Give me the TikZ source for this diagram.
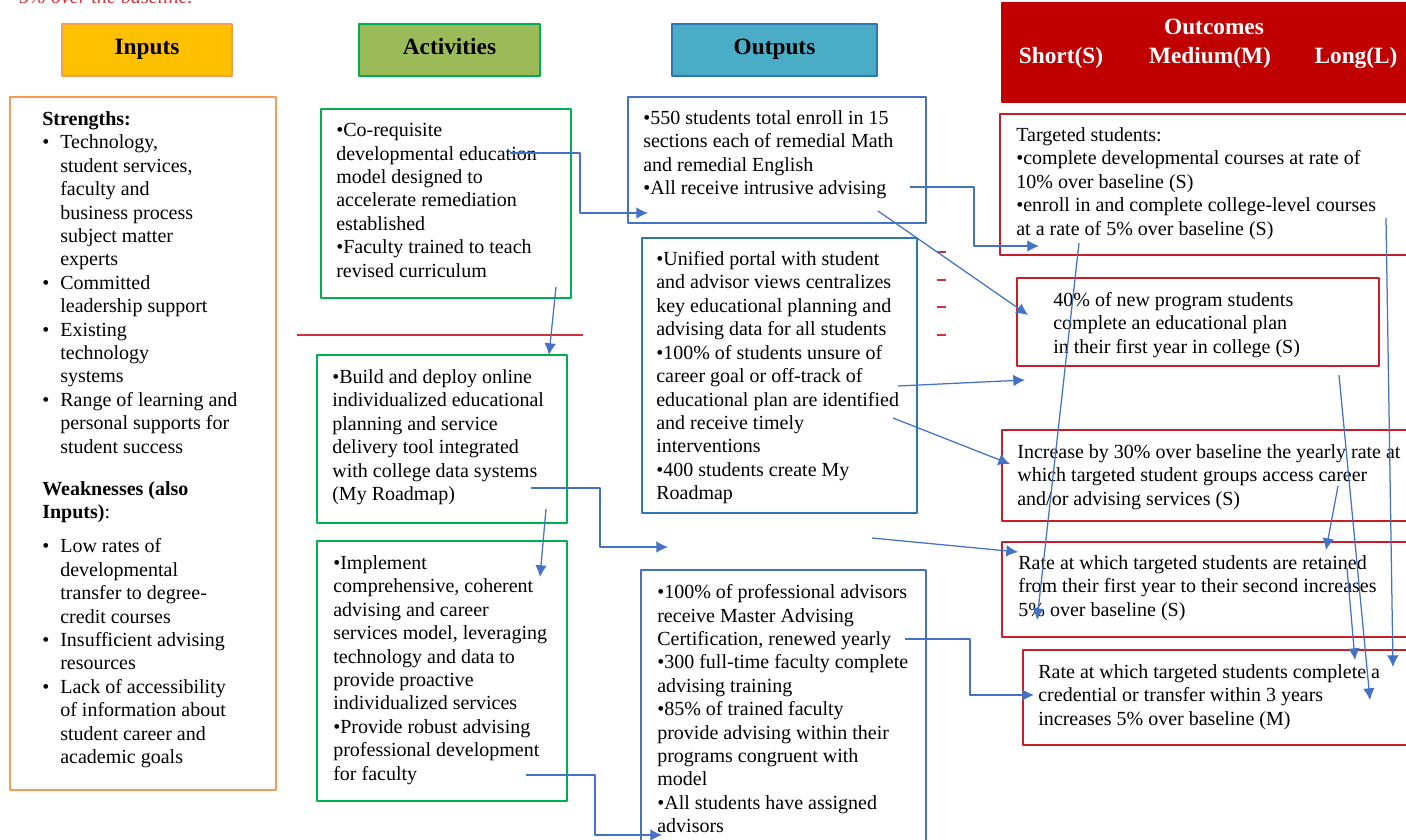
\documentclass[tikz,border=0pt]{standalone}
\usepackage{fontspec}
\setmainfont{Liberation Serif}
\usetikzlibrary{arrows.meta,fit}
\definecolor{inyel}{RGB}{255,192,0}
\definecolor{inbrd}{RGB}{245,157,86}
\definecolor{actgrn}{RGB}{155,187,89}
\definecolor{grnbrd}{RGB}{0,176,80}
\definecolor{outblu}{RGB}{75,172,198}
\definecolor{blubrd}{RGB}{46,117,182}
\definecolor{boxblu}{RGB}{68,114,196}
\definecolor{outred}{RGB}{192,0,0}
\definecolor{redbrd}{RGB}{200,30,40}
\definecolor{redln}{RGB}{210,50,55}
\definecolor{arr}{RGB}{68,114,196}
\newcommand{\itm}{\makebox[10.8pt][l]{\textbullet}}
\newcommand{\cont}{\hspace*{10.8pt}}
\begin{document}
\begin{tikzpicture}[x=0.6pt,y=-0.6pt,>={Latex[length=7pt,width=7pt]},line join=round,
 font=\fontsize{12}{14.05}\selectfont,
 head/.style={draw,line width=0.9pt,inner sep=0pt},
 htxt/.style={anchor=base,inner sep=0pt,font=\fontsize{14}{16}\selectfont\bfseries},
 box/.style={draw,line width=0.75pt,inner sep=0pt},
 txt/.style={anchor=north west,inner sep=0pt,align=left,yshift=6.8pt,execute at begin node=\strut},
 con/.style={draw=arr,line width=0.75pt}]
 \useasboundingbox (0,0) rectangle (1406,840);
 \node[anchor=base east,inner sep=0pt,text=redln,font=\fontsize{12}{14}\selectfont\itshape] (note) at (193,4) {5\% over the baseline.};
 % column heads
 \node[head,fill=inyel,draw=inbrd,fit={(62,24)(232,76)}] (hin) {};
 \node[head,fill=actgrn,draw=grnbrd,fit={(359,24)(540,76)}] (hact) {};
 \node[head,fill=outblu,draw=blubrd,fit={(672,24)(877,76)}] (hout) {};
 \node[head,fill=outred,draw=outred,fit={(1002,3)(1410,102)}] (hres) {};
 \foreach \n/\t/\x/\y in {hin0/Inputs/147/55,hact0/Activities/449.5/55,hout0/Outputs/774.5/55}
 \node[htxt] (\n) at (\x,\y) {\t};
 \foreach \n/\t/\x/\y in {hres0/Outcomes/1214/35,hres1/Short(S)/1061/64,hres2/Medium(M)/1210/64,hres3/Long(L)/1356/64}
 \node[htxt,text=white] (\n) at (\x,\y) {\t};
 % boxes
 \node[box,draw=inbrd,fit={(10,97)(276,790)}] (inp) {};
 \node[box,draw=grnbrd,fit={(321,109)(571,298)}] (a1) {};
 \node[box,draw=grnbrd,fit={(317,355)(567,523)}] (a2) {};
 \node[box,draw=grnbrd,fit={(317,541)(567,801)}] (a3) {};
 \node[box,draw=boxblu,fit={(628,97)(926,223)}] (o1) {};
 \node[box,draw=blubrd,fit={(642,238)(917,513)}] (o2) {};
 \node[box,draw=boxblu,fit={(641,570)(926,850)}] (o3) {};
 \node[box,draw=redbrd,fit={(1000,114)(1410,255)}] (r1) {};
 \node[box,draw=redbrd,fit={(1017,278)(1379,366)}] (r2) {};
 \node[box,draw=redbrd,fit={(1002,430)(1410,521)}] (r3) {};
 \node[box,draw=redbrd,fit={(1002,542)(1410,637)}] (r4) {};
 \node[box,draw=redbrd,fit={(1023,650)(1410,745)}] (r5) {};
 \draw[redln,line width=1pt] (297,335)--(583,335);
 \foreach \y in {252,280,307,335}
 \draw[redln,line width=1pt] (937,\y)--(946,\y);
 % texts
 \node[txt] (inpt) at (42,122.5) {\textbf{Strengths:}\\
 \itm Technology,\\ \cont student services,\\ \cont faculty and\\ \cont business process\\ \cont subject matter\\ \cont experts\\
 \itm Committed\\ \cont leadership support\\
 \itm Existing\\ \cont technology\\ \cont systems\\
 \itm Range of learning and\\ \cont personal supports for\\ \cont student success\\[11.2pt]
 \textbf{Weaknesses (also}\\ \textbf{Inputs)}:\\[6.4pt]
 \itm Low rates of\\ \cont developmental\\ \cont transfer to degree-\\ \cont credit courses\\
 \itm Insufficient advising\\ \cont resources\\
 \itm Lack of accessibility\\ \cont of information about\\ \cont student career and\\ \cont academic goals};
 \node[txt] (a1t) at (336,134.5) {\textbullet Co-requisite\\ developmental education\\ model designed to\\ accelerate remediation\\ established\\ \textbullet Faculty trained to teach\\ revised curriculum};
 \node[txt] (a2t) at (332,380.5) {\textbullet Build and deploy online\\ individualized educational\\ planning and service\\ delivery tool integrated\\ with college data systems\\ (My Roadmap)};
 \node[txt] (a3t) at (333,566.5) {\textbullet Implement\\ comprehensive, coherent\\ advising and career\\ services model, leveraging\\ technology and data to\\ provide proactive\\ individualized services\\ \textbullet Provide robust advising\\ professional development\\ for faculty};
 \node[txt] (o1t) at (643,121.5) {\textbullet 550 students total enroll in 15\\ sections each of remedial Math\\ and remedial English\\ \textbullet All receive intrusive advising};
 \node[txt] (o2t) at (656,262.5) {\textbullet Unified portal with student\\ and advisor views centralizes\\ key educational planning and\\ advising data for all students\\ \textbullet 100\% of students unsure of\\ career goal or off-track of\\ educational plan are identified\\ and receive timely\\ interventions\\ \textbullet 400 students create My\\ Roadmap};
 \node[txt] (o3t) at (657,595.5) {\textbullet 100\% of professional advisors\\ receive Master Advising\\ Certification, renewed yearly\\ \textbullet 300 full-time faculty complete\\ advising training\\ \textbullet 85\% of trained faculty\\ provide advising within their\\ programs congruent with\\ model\\ \textbullet All students have assigned\\ advisors};
 \node[txt] (r1t) at (1016,138.5) {Targeted students:\\ \textbullet complete developmental courses at rate of\\ 10\% over baseline (S)\\ \textbullet enroll in and complete college-level courses\\ at a rate of 5\% over baseline (S)};
 \node[txt] (r2t) at (1053,303.5) {40\% of new program students\\ complete an educational plan\\ in their first year in college (S)};
 \node[txt] (r3t) at (1017,455.5) {Increase by 30\% over baseline the yearly rate at\\ which targeted student groups access career\\ and/or advising services (S)};
 \node[txt] (r4t) at (1018,566.5) {Rate at which targeted students are retained\\ from their first year to their second increases\\ 5\% over baseline (S)};
 \node[txt] (r5t) at (1038,675.5) {Rate at which targeted students complete a\\ credential or transfer within 3 years\\ increases 5\% over baseline (M)};
 % connector ends
 \foreach \n/\x/\y in {a1r/510/153,o1in/648/213,a1b/556/287,a2in/549/355,a2r/531/488,a2to/668/547,
 a2b/546/509,a3in/540/577,a3r/526/775,o3in/662/835,o1r/910/187,r1in/1039/246,o1d/878/211,r2in/1028/315,
 o2a/898/386,o2to/1025/380,o2b/893/418,r3in/1010/464,o2c/872/538,r4in/1018/552,o3r/905/639,r5in/1034/695,
 r1a/1079/243,r4a/1037/620,r1b/1386/218,r5a/1393/667,r2a/1339/375,r5b/1370/700,r3a/1338/486,r4b/1326/550,
 r4c/1347/568,r5c/1355/660}
 \coordinate (\n) at (\x,\y);
 \foreach \s/\e/\d in {a1r/o1in/70,a2r/a2to/69,a3r/o3in/69,o1r/r1in/64,o3r/r5in/65}
 \draw[con,->] (\s) -- ++(\d,0) |- (\e);
 \foreach \s/\e in {a1b/a2in,a2b/a3in,o1d/r2in,o2a/o2to,o2b/r3in,o2c/r4in,r1a/r4a,r1b/r5a,r2a/r5b,r3a/r4b,r4c/r5c}
 \draw[con,->] (\s) -- (\e);
\end{tikzpicture}
\end{document}
